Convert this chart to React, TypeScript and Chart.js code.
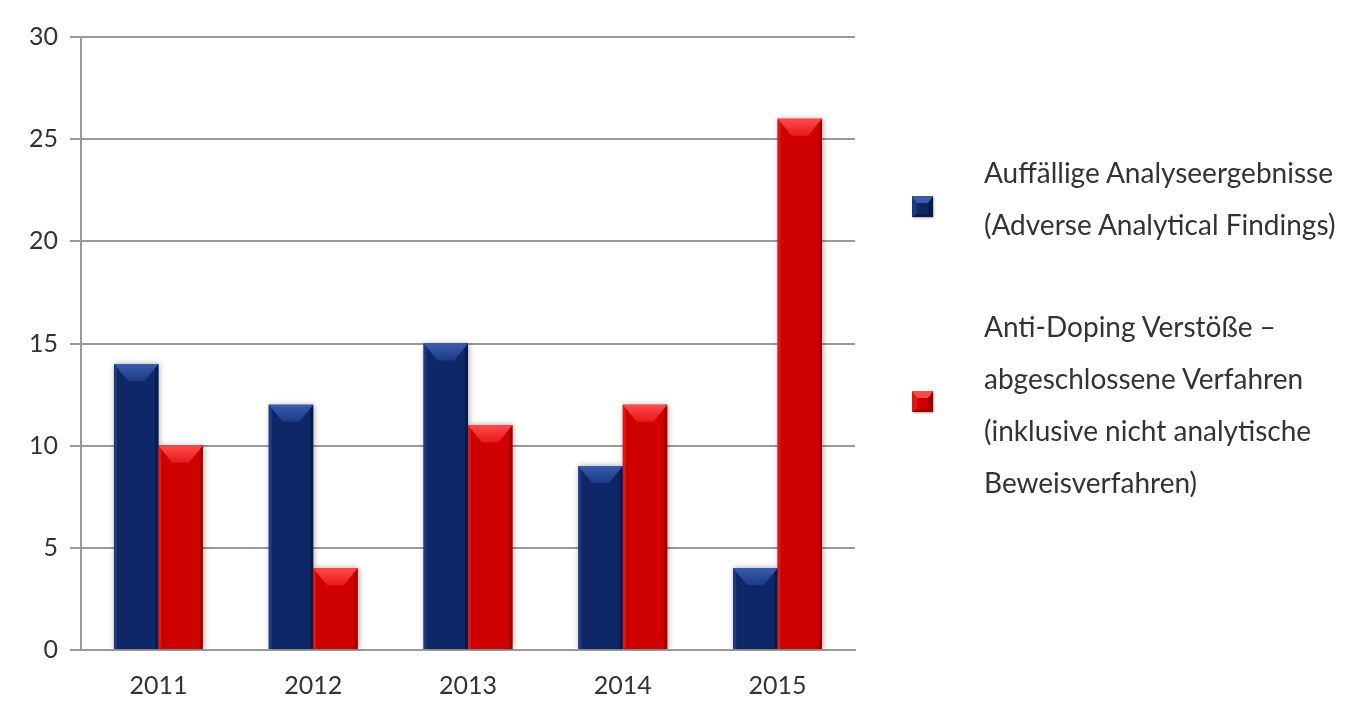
import React, { useEffect, useRef } from 'react';
import { Chart, registerables } from 'chart.js';

Chart.register(...registerables);

const categories = ['2011', '2012', '2013', '2014', '2015'];
const adverseFindings = [14, 12, 15, 9, 4];
const completedProceedings = [10, 4, 11, 12, 26];
const yMin = 0;
const yMax = 30;
const yStep = 5;
const seriesNames = [
  'Auffällige Analyseergebnisse (Adverse Analytical Findings)',
  'Anti-Doping Verstöße – abgeschlossene Verfahren (inklusive nicht analytische Beweisverfahren)',
];
const legendLines1 = ['Auffällige Analyseergebnisse', '(Adverse Analytical Findings)'];
const legendLines2 = [
  'Anti-Doping Verstöße –',
  'abgeschlossene Verfahren',
  '(inklusive nicht analytische',
  'Beweisverfahren)',
];

const FONT = 'Lato, "Open Sans", sans-serif';
const TEXT = '#333333';
const GRID = '#9a9a9a';

const palettes = [
  { main: '#0d2767', left: '#1d3a80', right: '#081a4a', topLight: '#3a5cab', topDark: '#1b3a86' },
  { main: '#cf0000', left: '#e01515', right: '#a00000', topLight: '#ff4a4a', topDark: '#e81a1a' },
];

const bevelPlugin = {
  id: 'bevel',
  beforeDatasetsDraw(chart: any) {
    const ctx = chart.ctx;
    ctx.save();
    ctx.shadowColor = 'rgba(0,0,0,0.35)';
    ctx.shadowBlur = 6;
    ctx.shadowOffsetX = 1;
    ctx.shadowOffsetY = 0;
  },
  afterDatasetsDraw(chart: any) {
    const ctx = chart.ctx;
    ctx.restore();
    chart.data.datasets.forEach((_ds: any, di: number) => {
      const meta = chart.getDatasetMeta(di);
      const pal = palettes[di];
      meta.data.forEach((el: any) => {
        const { x, y, base, width } = el.getProps(['x', 'y', 'base', 'width'], true);
        const L = x - width / 2;
        const R = x + width / 2;
        const T = Math.min(y, base);
        const B = Math.max(y, base);
        const h = B - T;
        const bh = Math.min(17, h / 2);
        const inset = Math.min(14, width / 2 - 2);
        ctx.save();
        ctx.fillStyle = pal.left;
        ctx.fillRect(L, T, 3, h);
        ctx.fillStyle = pal.right;
        ctx.fillRect(R - 3, T, 3, h);
        const g = ctx.createLinearGradient(0, T, 0, T + bh);
        g.addColorStop(0, pal.topLight);
        g.addColorStop(1, pal.topDark);
        ctx.fillStyle = g;
        ctx.beginPath();
        ctx.moveTo(L, T);
        ctx.lineTo(R, T);
        ctx.lineTo(R - inset, T + bh);
        ctx.lineTo(L + inset, T + bh);
        ctx.closePath();
        ctx.fill();
        ctx.restore();
      });
    });
  },
};

function Marker({ top, pal }: { top: number; pal: any }) {
  return (
    <div
      style={{
        position: 'absolute',
        left: 912,
        top,
        width: 21,
        height: 21,
        boxSizing: 'border-box',
        background: pal.main,
        borderTop: `7px solid ${pal.topLight}`,
        borderLeft: `5px solid ${pal.left}`,
        borderRight: `5px solid ${pal.right}`,
        borderBottom: `3px solid ${pal.right}`,
        boxShadow: '1px 1px 2px rgba(0,0,0,0.35)',
      }}
    />
  );
}

function LegendBlock({ top, lines }: { top: number; lines: string[] }) {
  return (
    <div
      style={{
        position: 'absolute',
        left: 984,
        top,
        fontFamily: FONT,
        fontSize: 28,
        lineHeight: '52px',
        color: TEXT,
        whiteSpace: 'nowrap',
      }}
    >
      {lines.map((l, i) => (
        <div key={i}>{l}</div>
      ))}
    </div>
  );
}

export default function App() {
  const ref = useRef<HTMLCanvasElement | null>(null);

  useEffect(() => {
    if (!ref.current) return;
    const chart = new Chart(ref.current, {
      type: 'bar',
      data: {
        labels: categories,
        datasets: [
          {
            label: seriesNames[0],
            data: adverseFindings,
            backgroundColor: palettes[0].main,
            barPercentage: 1,
            categoryPercentage: 0.574,
          },
          {
            label: seriesNames[1],
            data: completedProceedings,
            backgroundColor: palettes[1].main,
            barPercentage: 1,
            categoryPercentage: 0.574,
          },
        ],
      },
      options: {
        responsive: false,
        animation: false,
        devicePixelRatio: 1,
        layout: { padding: { left: 0, top: 37, right: 492, bottom: 0 } },
        plugins: {
          legend: { display: false },
          tooltip: { enabled: false },
        },
        scales: {
          x: {
            grid: { display: false, drawTicks: false },
            border: { display: true, color: GRID, width: 2 },
            ticks: { color: TEXT, font: { family: FONT, size: 25 }, padding: 21 },
            afterFit(scale: any) {
              scale.height = 51;
            },
          },
          y: {
            min: yMin,
            max: yMax,
            ticks: {
              stepSize: yStep,
              color: TEXT,
              font: { family: FONT, size: 25 },
              padding: 12,
            },
            grid: { color: GRID, lineWidth: 2, tickLength: 11, drawTicks: true },
            border: { display: true, color: GRID, width: 2 },
            afterFit(scale: any) {
              scale.width = 81;
            },
          },
        },
      },
      plugins: [bevelPlugin],
    });
    return () => chart.destroy();
  }, []);

  return (
    <div
      style={{
        position: 'fixed',
        left: 0,
        top: 0,
        width: 1347,
        height: 701,
        background: '#ffffff',
        overflow: 'hidden',
      }}
    >
      <canvas ref={ref} width={1347} height={701} style={{ width: 1347, height: 701, display: 'block' }} />
      <Marker top={196} pal={palettes[0]} />
      <Marker top={391} pal={palettes[1]} />
      <LegendBlock top={146} lines={legendLines1} />
      <LegendBlock top={300} lines={legendLines2} />
    </div>
  );
}
